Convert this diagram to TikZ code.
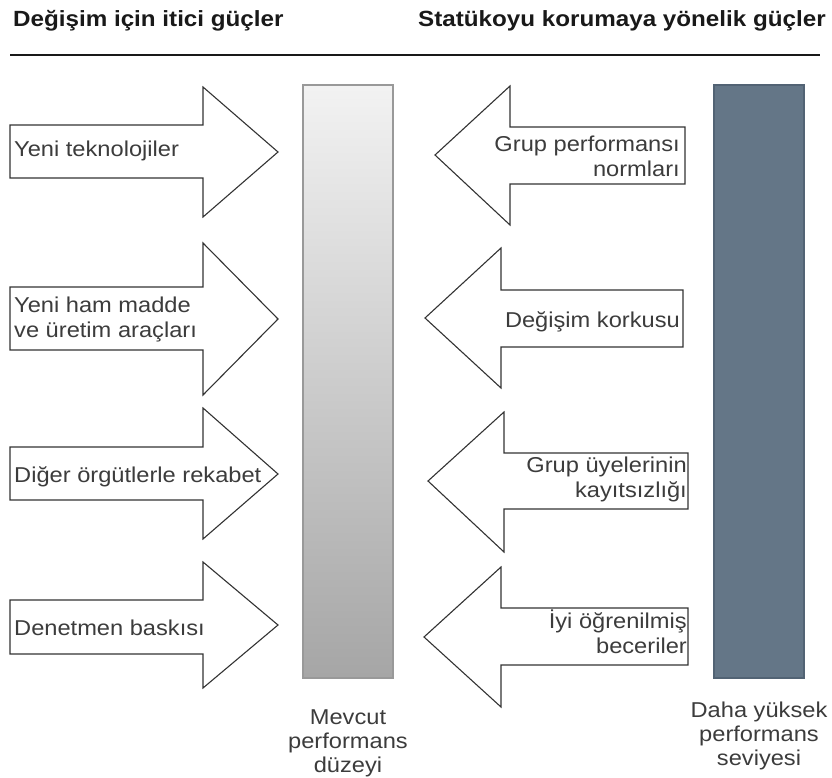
\documentclass[tikz,border=0pt]{standalone}
\usepackage{fontspec}
\setmainfont{Liberation Sans}[FakeStretch=1.1]
\definecolor{barslate}{RGB}{100, 118, 135}
\definecolor{barslateedge}{RGB}{82, 99, 116}
\definecolor{labelgray}{RGB}{60, 60, 60}
\usetikzlibrary{positioning}

\tikzset{
  forcearrow/.style={draw=black!80, fill=white, line width=1.1pt, line join=miter},
  forcetext/.style={inner sep=0pt, text=labelgray, font=\fontsize{21.5}{25}\selectfont},
  headtext/.style={inner sep=0pt, text=black!90, font=\fontsize{22}{26}\selectfont\bfseries},
  leveltext/.style={inner sep=0pt, text=labelgray, align=center, font=\fontsize{21.5}{24}\selectfont},
}

\begin{document}
\begin{tikzpicture}[x=1pt, y=-1pt]
  \useasboundingbox (0,0) rectangle (832,778);

  % Titles and rule
  \node[headtext, anchor=base west] (pushtitle) at (13,27) {Değişim için itici güçler};
  \node[headtext, anchor=base west] (holdtitle) at (418,27) {Statükoyu korumaya yönelik güçler};
  \coordinate (ruleL) at (10,55);
  \coordinate (ruleR) at (820,55);
  \draw[line width=2pt, black!90] (ruleL) -- (ruleR);

  % Performance bars
  \node[draw=black!40, line width=1.2pt, top color=black!5, bottom color=black!35,
        minimum width=90pt, minimum height=593pt, inner sep=0pt] (curbar) at (348,381.5) {};
  \node[draw=barslateedge, line width=1.2pt, fill=barslate,
        minimum width=90pt, minimum height=593pt, inner sep=0pt] (highbar) at (759,381.5) {};
  \node[leveltext, anchor=north] (curlabel) at (348,709) {Mevcut\\performans\\düzeyi};
  \node[leveltext, anchor=north] (highlabel) at (759,702) {Daha yüksek\\performans\\seviyesi};

  % Driving forces (left)
  \draw[forcearrow] (10,125) -- (203,125) -- (203,87) -- (278,152) -- (203,217) -- (203,178) -- (10,178) -- cycle;
  \draw[forcearrow] (10,287) -- (203,287) -- (203,243) -- (278,319) -- (203,395) -- (203,350) -- (10,350) -- cycle;
  \draw[forcearrow] (10,447) -- (203,447) -- (203,408) -- (278,474) -- (203,539) -- (203,500) -- (10,500) -- cycle;
  \draw[forcearrow] (10,600) -- (203,600) -- (203,562) -- (278,625) -- (203,688) -- (203,654) -- (10,654) -- cycle;

  \node[forcetext, anchor=base west] (tech) at (14,157) {Yeni teknolojiler};
  \node[forcetext, anchor=north west, align=left] (material) at (14,297) {Yeni ham madde\\ve üretim araçları};
  \node[forcetext, anchor=base west] (rivals) at (14,482) {Diğer örgütlerle rekabet};
  \node[forcetext, anchor=base west] (boss) at (14,635) {Denetmen baskısı};

  % Restraining forces (right)
  \draw[forcearrow] (685,127) -- (510,127) -- (510,86) -- (435,155) -- (510,225) -- (510,184) -- (685,184) -- cycle;
  \draw[forcearrow] (683,290) -- (501,290) -- (501,248) -- (425,318) -- (501,388) -- (501,347) -- (683,347) -- cycle;
  \draw[forcearrow] (688,453) -- (504,453) -- (504,412) -- (428,481) -- (504,552) -- (504,509) -- (688,509) -- cycle;
  \draw[forcearrow] (688,608) -- (501,608) -- (501,567) -- (424,637) -- (501,707) -- (501,665) -- (688,665) -- cycle;

  \node[forcetext, anchor=north east, align=right] (norms) at (680,136) {Grup performansı\\normları};
  \node[forcetext, anchor=base east] (fear) at (680,327) {Değişim korkusu};
  \node[forcetext, anchor=north east, align=right] (apathy) at (687,457) {Grup üyelerinin\\kayıtsızlığı};
  \node[forcetext, anchor=north east, align=right] (skills) at (687,610) {İyi öğrenilmiş\\beceriler};
\end{tikzpicture}
\end{document}
